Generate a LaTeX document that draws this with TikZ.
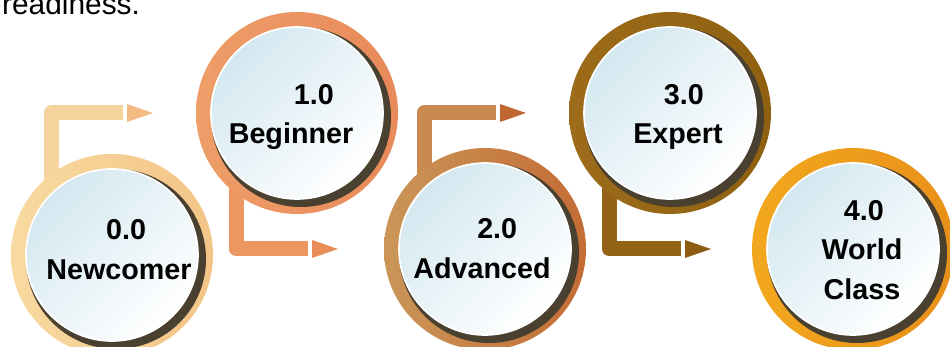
\documentclass[tikz,border=0pt]{standalone}
\usepackage{fontspec}
\setmainfont{Liberation Sans}
\usetikzlibrary{calc}

\definecolor{innerblue}{RGB}{212,232,240}
\definecolor{discshadow}{RGB}{74,64,48}
\definecolor{bar0}{RGB}{247,212,158}
\definecolor{head0}{RGB}{243,186,130}
\definecolor{bar1}{RGB}{236,150,98}
\definecolor{head1}{RGB}{232,140,88}
\definecolor{bar2}{RGB}{200,138,78}
\definecolor{head2}{RGB}{192,102,48}
\definecolor{bar3}{RGB}{148,100,22}
\definecolor{head3}{RGB}{140,92,18}
\definecolor{ringA0}{RGB}{248,218,160}
\definecolor{ringB0}{RGB}{243,196,135}
\definecolor{ringA1}{RGB}{238,158,104}
\definecolor{ringB1}{RGB}{232,137,90}
\definecolor{ringA2}{RGB}{202,150,88}
\definecolor{ringB2}{RGB}{196,108,53}
\definecolor{ringA3}{RGB}{156,108,26}
\definecolor{ringB3}{RGB}{142,96,16}
\definecolor{ringA4}{RGB}{242,168,30}
\definecolor{ringB4}{RGB}{232,144,26}

\newcommand{\stagedisc}[3]{%
   \shade[left color=#2,right color=#3] (#1) circle(101);
   \fill[discshadow] ($(#1)+(4,4)$) circle(90);
   \shadedraw[draw=white,line width=0.05cm,top color=innerblue,bottom color=white,shading angle=45] (#1) circle(86);
}

\begin{document}
\begin{tikzpicture}[x=0.03cm,y=-0.03cm,
   stage/.style={font=\bfseries\fontsize{24.5}{34}\selectfont,align=center},
   bar/.style={line width=0.45cm,line join=round}]
   \clip[use as bounding box] (0,0) rectangle (950,347);
   \coordinate (c0) at (112,255);
   \coordinate (c1) at (297,113);
   \coordinate (c2) at (485,249);
   \coordinate (c3) at (670,113);
   \coordinate (c4) at (853,249);
   \draw[bar,draw=bar0] ($(c0)+(-61,0)$) |- ($(c1 -| c0)+(11,0)$);
   \fill[head0] ($(c1 -| c0)+(15,-9)$) -- ++(26,9) -- ++(-26,9) -- cycle;
   \draw[bar,draw=bar1] ($(c1)+(-61,0)$) |- ($(c2 -| c1)+(11,0)$);
   \fill[head1] ($(c2 -| c1)+(15,-9)$) -- ++(26,9) -- ++(-26,9) -- cycle;
   \draw[bar,draw=bar2] ($(c2)+(-61,0)$) |- ($(c3 -| c2)+(11,0)$);
   \fill[head2] ($(c3 -| c2)+(15,-9)$) -- ++(26,9) -- ++(-26,9) -- cycle;
   \draw[bar,draw=bar3] ($(c3)+(-61,0)$) |- ($(c4 -| c3)+(11,0)$);
   \fill[head3] ($(c4 -| c3)+(15,-9)$) -- ++(26,9) -- ++(-26,9) -- cycle;
   \stagedisc{c0}{ringA0}{ringB0}
   \stagedisc{c1}{ringA1}{ringB1}
   \stagedisc{c2}{ringA2}{ringB2}
   \stagedisc{c3}{ringA3}{ringB3}
   \stagedisc{c4}{ringA4}{ringB4}
   \node[stage] (s0) at ($(c0)+(7,-5)$) {\hspace*{12pt}0.0\\Newcomer};
   \node[stage] (s1) at ($(c1)+(-6,4)$) {\hspace*{39pt}1.0\\Beginner};
   \node[stage] (s2) at ($(c2)+(-3,0)$) {\hspace*{26pt}2.0\\Advanced};
   \node[stage] (s3) at ($(c3)+(8,4)$) {\hspace*{10pt}3.0\\Expert};
   \node[stage] (s4) at ($(c4)+(9,1)$) {\hspace*{3pt}4.0\\World\\Class};
   \node[anchor=base west,font=\fontsize{25.5}{30}\selectfont] (intro) at (-2,15) {readiness.};
\end{tikzpicture}
\end{document}
